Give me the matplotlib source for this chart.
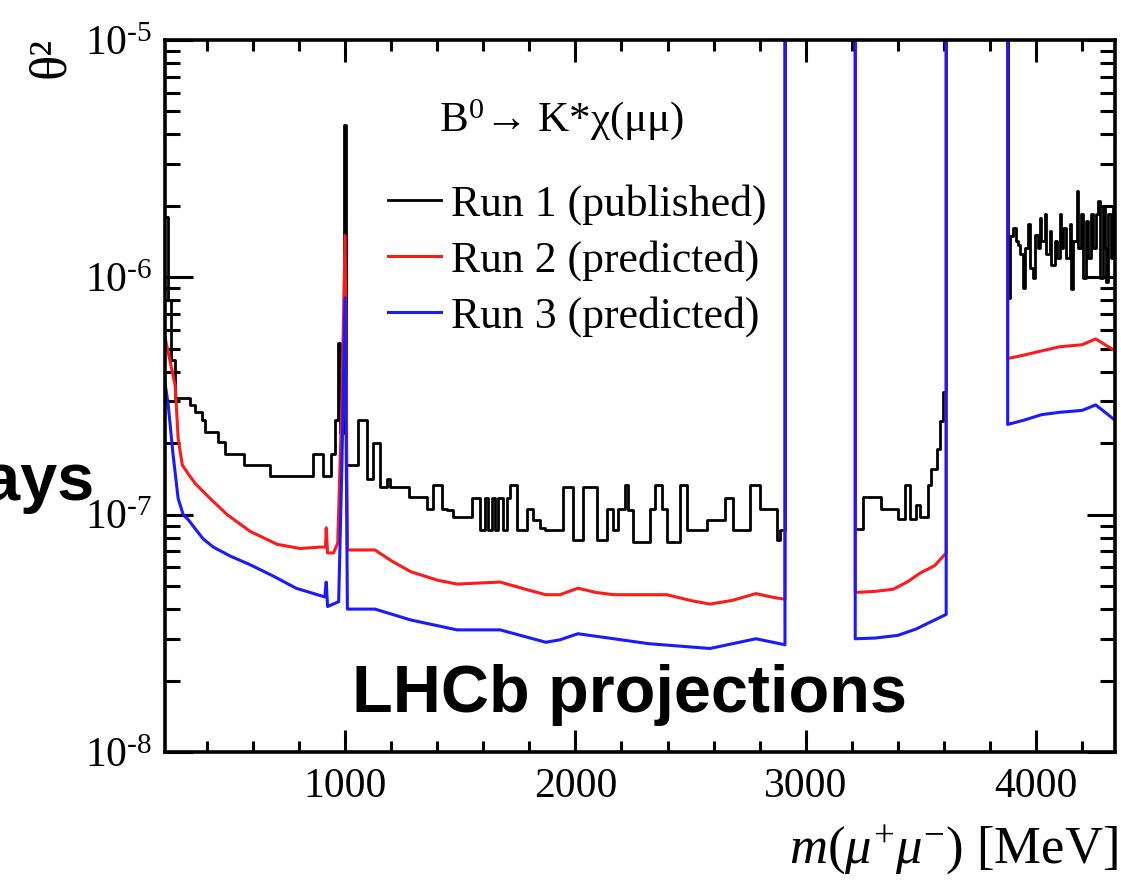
import numpy as np
import matplotlib
matplotlib.use("Agg")
import matplotlib.pyplot as plt
from matplotlib.ticker import (MultipleLocator, LogLocator, NullFormatter, FixedLocator,
                               FuncFormatter)

plt.rcParams['font.family'] = ['Liberation Serif', 'DejaVu Serif']
plt.rcParams['mathtext.fontset'] = 'custom'
plt.rcParams['mathtext.rm'] = 'Liberation Serif'
plt.rcParams['mathtext.it'] = 'Liberation Serif:italic'
plt.rcParams['mathtext.bf'] = 'Liberation Serif:bold'
plt.rcParams['axes.unicode_minus'] = False

# ---------------------------------------------------------------- data
# Dimuon mass windows (MeV) outside the charmonium vetoes
VETO_WINDOWS = [(2910, 3215), (3610, 3877)]
VETO_LEVEL = 1.0   # limit is unbounded inside the vetoed regions

# Run 1 (published) limit, stepwise in mass
run1_w1_m = [218, 232, 245, 260, 327, 349, 378, 392, 450, 479, 559, 675, 862, 906,
             940, 955, 968, 978, 994, 1006, 1058, 1094, 1123, 1150, 1181, 1195, 1278,
             1355, 1383, 1420, 1441, 1470, 1550, 1586, 1608, 1622, 1637, 1651, 1665,
             1687, 1702, 1716, 1745, 1789, 1817, 1846, 1868, 1947, 1991, 2034, 2092,
             2136, 2165, 2186, 2215, 2230, 2251, 2324, 2345, 2374, 2396, 2454, 2483,
             2570, 2598, 2649, 2685, 2758, 2801, 2874, 2888, 2910]
run1_w1_t = [1.8e-6, 8.0e-7, 4.5e-7, 3.09e-7, 2.9e-7, 2.72e-7, 2.51e-7, 2.24e-7, 2.03e-7,
             1.81e-7, 1.62e-7, 1.45e-7, 1.81e-7, 1.45e-7, 1.8e-7, 2.5e-7, 5.3e-7, 2.2e-7,
             4.4e-6, 1.62e-7, 2.51e-7, 1.42e-7, 2.0e-7, 1.31e-7, 1.42e-7, 1.31e-7,
             1.19e-7, 1.06e-7, 1.33e-7, 1.06e-7, 1.05e-7, 9.8e-8, 1.17e-7, 8.6e-8,
             1.17e-7, 8.6e-8, 1.17e-7, 8.6e-8, 1.17e-7, 8.6e-8, 1.17e-7, 1.33e-7, 8.6e-8,
             1.06e-7, 9.5e-8, 8.75e-8, 8.6e-8, 1.31e-7, 7.8e-8, 1.31e-7, 7.8e-8, 1.06e-7,
             8.6e-8, 1.06e-7, 1.33e-7, 1.05e-7, 7.7e-8, 1.06e-7, 1.33e-7, 1.06e-7, 7.7e-8,
             1.33e-7, 8.6e-8, 9.5e-8, 9.5e-8, 1.17e-7, 8.6e-8, 1.33e-7, 1.06e-7, 7.8e-8,
             8.6e-8, 8.6e-8]
run1_w2_m = [3215, 3250, 3325, 3401, 3430, 3455, 3478, 3496, 3532, 3546, 3568, 3582,
             3597, 3610]
run1_w2_t = [8.7e-8, 1.19e-7, 1.06e-7, 9.6e-8, 1.34e-7, 9.6e-8, 1.10e-7, 9.8e-8,
             1.34e-7, 1.56e-7, 1.9e-7, 2.47e-7, 3.3e-7, 3.5e-7]
run1_w3_m = [3877, 3886, 3900, 3915, 3922, 3930, 3944, 3951, 3966, 3973, 3987, 3995,
             4009, 4016, 4023, 4038, 4045, 4060, 4067, 4081, 4089, 4103, 4110, 4118,
             4132, 4147, 4154, 4161, 4176, 4183, 4197, 4204, 4219, 4226, 4240, 4248,
             4262, 4269, 4277, 4291, 4298, 4306, 4313, 4327, 4335, 4343]
run1_w3_t = [8.2e-7, 1.49e-6, 1.61e-6, 1.42e-6, 1.37e-6, 1.25e-6, 9.0e-7, 1.33e-6,
             1.67e-6, 1.10e-6, 9.9e-7, 1.51e-6, 1.33e-6, 1.78e-6, 1.42e-6, 1.84e-6,
             1.25e-6, 1.56e-6, 1.13e-6, 1.42e-6, 1.21e-6, 1.84e-6, 1.33e-6, 1.61e-6,
             1.21e-6, 1.67e-6, 8.9e-7, 1.42e-6, 2.31e-6, 1.33e-6, 1.84e-6, 9.9e-7,
             1.72e-6, 1.21e-6, 1.84e-6, 1.33e-6, 1.84e-6, 2.09e-6, 9.9e-7, 1.96e-6,
             1.33e-6, 9.6e-7, 1.84e-6, 1.21e-6, 1.96e-6, 1.4e-6]

# Run 2 (predicted) limit
run2_w1_m = [218, 262, 267, 275, 293, 320, 350, 414, 488, 588, 705, 805, 891, 915, 918,
             924, 950, 968, 986, 1000, 1010, 1130, 1200, 1285, 1400, 1486, 1580, 1673,
             1800, 1872, 1933, 2011, 2090, 2167, 2280, 2397, 2500, 2584, 2680, 2784,
             2850, 2910]
run2_w1_t = [5.6e-7, 3.5e-7, 2.9e-7, 2.1e-7, 1.62e-7, 1.48e-7, 1.35e-7, 1.17e-7, 1.0e-7,
             8.5e-8, 7.5e-8, 7.2e-8, 7.3e-8, 7.3e-8, 8.8e-8, 6.9e-8, 6.9e-8, 7.6e-8,
             3.0e-7, 1.5e-6, 7.1e-8, 7.1e-8, 6.4e-8, 5.75e-8, 5.3e-8, 5.1e-8, 5.15e-8,
             5.2e-8, 4.8e-8, 4.6e-8, 4.6e-8, 4.9e-8, 4.7e-8, 4.6e-8, 4.6e-8, 4.6e-8,
             4.35e-8, 4.2e-8, 4.35e-8, 4.65e-8, 4.5e-8, 4.4e-8]
run2_w2_m = [3215, 3300, 3380, 3440, 3500, 3560, 3610]
run2_w2_t = [4.7e-8, 4.75e-8, 4.85e-8, 5.2e-8, 5.7e-8, 6.1e-8, 6.9e-8]
run2_w3_m = [3877, 3947, 4025, 4103, 4200, 4259, 4300, 4343]
run2_w3_t = [4.55e-7, 4.7e-7, 4.9e-7, 5.1e-7, 5.2e-7, 5.5e-7, 5.2e-7, 4.9e-7]

# Run 3 (predicted) limit
run3_w1_m = [218, 232, 253, 275, 297, 320, 350, 384, 428, 500, 588, 690, 787, 912,
             918, 924, 972, 986, 1000, 1010, 1130, 1285, 1486, 1673, 1872, 1933, 2011,
             2167, 2318, 2584, 2784, 2910]
run3_w1_t = [3.6e-7, 2.9e-7, 1.79e-7, 1.17e-7, 1.0e-7, 9.5e-8, 8.7e-8, 7.9e-8, 7.3e-8,
             6.7e-8, 6.15e-8, 5.5e-8, 4.9e-8, 4.5e-8, 5.2e-8, 4.1e-8, 4.3e-8, 1.6e-7,
             8.2e-7, 4.0e-8, 4.0e-8, 3.6e-8, 3.27e-8, 3.27e-8, 2.9e-8, 2.97e-8, 3.15e-8,
             3.0e-8, 2.86e-8, 2.73e-8, 3.0e-8, 2.83e-8]
run3_w2_m = [3215, 3300, 3400, 3480, 3560, 3610]
run3_w2_t = [3.0e-8, 3.02e-8, 3.1e-8, 3.3e-8, 3.6e-8, 3.8e-8]
run3_w3_m = [3877, 3947, 4025, 4103, 4200, 4259, 4300, 4343]
run3_w3_t = [2.4e-7, 2.5e-7, 2.64e-7, 2.7e-7, 2.75e-7, 2.9e-7, 2.7e-7, 2.5e-7]

series_labels = ["Run 1 (published)", "Run 2 (predicted)", "Run 3 (predicted)"]
series_colors = ["black", "#ff1a1a", "#1a1aff"]

x_ticks = [1000, 2000, 3000, 4000]
x_tick_labels = ["1000", "2000", "3000", "4000"]


def join_windows(windows):
    """Concatenate mass windows, sending the limit off scale inside the vetoes."""
    ms, ts = [], []
    for i, (m, t) in enumerate(windows):
        if i > 0:
            ms.append(m[0]); ts.append(VETO_LEVEL)
        ms.extend(m); ts.extend(t)
        if i < len(windows) - 1:
            ms.append(m[-1]); ts.append(VETO_LEVEL)
    return np.array(ms, float), np.array(ts, float)


def decade_label(v, pos):
    """10 with a short-hyphen exponent, as in ROOT-style axes."""
    e = int(round(np.log10(v)))
    sign = r"\text{-}" if e < 0 else ""
    return r"$\mathdefault{10^{%s%d}}$" % (sign, abs(e))


run1_m, run1_t = join_windows([(run1_w1_m, run1_w1_t), (run1_w2_m, run1_w2_t),
                               (run1_w3_m, run1_w3_t)])
run2_m, run2_t = join_windows([(run2_w1_m, run2_w1_t), (run2_w2_m, run2_w2_t),
                               (run2_w3_m, run2_w3_t)])
run3_m, run3_t = join_windows([(run3_w1_m, run3_w1_t), (run3_w2_m, run3_w2_t),
                               (run3_w3_m, run3_w3_t)])

# ---------------------------------------------------------------- figure
W, H = 1121, 880
fig = plt.figure(figsize=(W / 100, H / 100), dpi=100)
ax = fig.add_axes([165 / W, 1 - 752 / H, (1115 - 165) / W, (752 - 40) / H])

l1, = ax.plot(run1_m, run1_t, color=series_colors[0], lw=2.0, drawstyle="steps-post",
              label=series_labels[0])
l2, = ax.plot(run2_m, run2_t, color=series_colors[1], lw=2.2, label=series_labels[1])
l3, = ax.plot(run3_m, run3_t, color=series_colors[2], lw=2.2, label=series_labels[2])

ax.set_yscale("log")
ax.set_xlim(218, 4343)
ax.set_ylim(1e-8, 1e-5)

ax.xaxis.set_major_locator(FixedLocator(x_ticks))
ax.set_xticklabels(x_tick_labels)
ax.xaxis.set_minor_locator(MultipleLocator(200))
ax.yaxis.set_major_locator(LogLocator(base=10, numticks=10))
ax.yaxis.set_major_formatter(FuncFormatter(decade_label))
ax.yaxis.set_minor_locator(LogLocator(base=10, subs=np.arange(2, 10), numticks=20))
ax.yaxis.set_minor_formatter(NullFormatter())

for s in ax.spines.values():
    s.set_linewidth(2.6)

ax.tick_params(axis="both", which="both", direction="in", top=True, right=True,
               width=2.2, labelsize=30)
ax.tick_params(axis="x", which="major", length=16, pad=11)
ax.tick_params(axis="x", which="minor", length=8)
ax.tick_params(axis="y", which="major", length=20, pad=9)
ax.tick_params(axis="y", which="minor", length=11)

ax.set_xlabel(r"$m(\mu^{+}\mu^{-})$ [MeV]", fontsize=38, ha="right", va="baseline")
ax.xaxis.set_label_coords(1.003, -0.156)
ax.set_ylabel("θ²", fontsize=38, ha="right")
ax.yaxis.set_label_coords(-0.095, 1.004)

# decay label and legend
ax.text(562 / W, 1 - 120 / H, r"B$^{0}$→ K*χ(μμ)", transform=fig.transFigure,
        ha="center", va="center", fontsize=31)
ax.legend(handles=[l1, l2, l3], loc="upper left",
          bbox_to_anchor=(388 / W, 1 - 184 / H), bbox_transform=fig.transFigure,
          frameon=False, fontsize=31.5, handlelength=1.2, handletextpad=0.25,
          labelspacing=0.34, borderpad=0, borderaxespad=0)

# overlay annotations
fig.text(352 / W, 1 - 712 / H, "LHCb projections", fontfamily="Liberation Sans",
         fontweight="bold", fontsize=48, ha="left", va="baseline")
fig.text(94 / W, 1 - 500 / H, "ays", fontfamily="Liberation Sans",
         fontweight="bold", fontsize=48, ha="right", va="baseline")

fig.savefig("out.png", dpi=100)
